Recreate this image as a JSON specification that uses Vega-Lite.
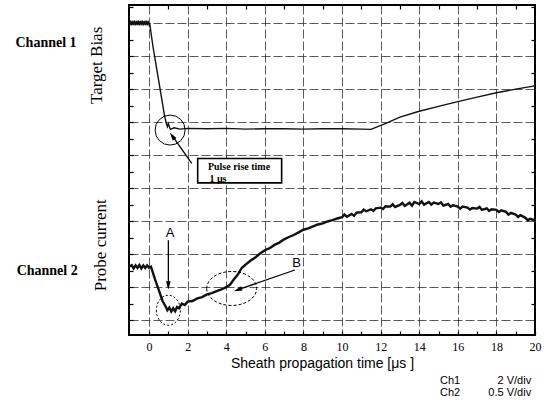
{
  "$schema": "https://vega.github.io/schema/vega-lite/v6.json",
  "width": 406,
  "height": 330,
  "autosize": "none",
  "padding": {"left": 129, "top": 5, "right": 16, "bottom": 67},
  "background": "white",
  "config": {"view": {"stroke": "#000", "strokeWidth": 2}},
  "datasets": {
    "ch1": [
      {"x": -1.04, "y": 9.02}, {"x": -1.0, "y": 8.93}, {"x": -0.95, "y": 9.08}, {"x": -0.9, "y": 8.93},
      {"x": -0.85, "y": 9.07}, {"x": -0.8, "y": 8.94}, {"x": -0.75, "y": 9.08}, {"x": -0.7, "y": 8.93},
      {"x": -0.65, "y": 9.07}, {"x": -0.6, "y": 8.94}, {"x": -0.55, "y": 9.08}, {"x": -0.5, "y": 8.93},
      {"x": -0.45, "y": 9.07}, {"x": -0.4, "y": 8.94}, {"x": -0.35, "y": 9.08}, {"x": -0.3, "y": 8.93},
      {"x": -0.25, "y": 9.07}, {"x": -0.2, "y": 8.94}, {"x": -0.15, "y": 9.08}, {"x": -0.1, "y": 8.93},
      {"x": -0.05, "y": 9.07}, {"x": 0.0, "y": 8.95}, {"x": 0.03, "y": 9.0},
      {"x": 0.2, "y": 8.3}, {"x": 0.4, "y": 7.6}, {"x": 0.6, "y": 6.9}, {"x": 0.8, "y": 6.2},
      {"x": 0.9, "y": 5.95}, {"x": 0.95, "y": 5.86}, {"x": 1.0, "y": 5.95}, {"x": 1.1, "y": 5.78},
      {"x": 1.3, "y": 5.83}, {"x": 1.6, "y": 5.79}, {"x": 2.0, "y": 5.81}, {"x": 3.0, "y": 5.8},
      {"x": 4.0, "y": 5.81}, {"x": 5.0, "y": 5.79}, {"x": 6.0, "y": 5.8}, {"x": 7.0, "y": 5.8},
      {"x": 8.0, "y": 5.79}, {"x": 9.0, "y": 5.8}, {"x": 10.0, "y": 5.8}, {"x": 11.0, "y": 5.79},
      {"x": 11.5, "y": 5.78}, {"x": 12.3, "y": 5.97}, {"x": 13.0, "y": 6.15}, {"x": 14.0, "y": 6.33},
      {"x": 15.0, "y": 6.48}, {"x": 16.0, "y": 6.62}, {"x": 17.0, "y": 6.76}, {"x": 18.0, "y": 6.89},
      {"x": 19.0, "y": 7.0}, {"x": 20.0, "y": 7.1}
    ],
    "ch2": [
      {"x": -1.04, "y": 1.62}, {"x": -0.9, "y": 1.67}, {"x": -0.8, "y": 1.57}, {"x": -0.7, "y": 1.66},
      {"x": -0.6, "y": 1.58}, {"x": -0.5, "y": 1.67}, {"x": -0.4, "y": 1.57}, {"x": -0.3, "y": 1.66},
      {"x": -0.2, "y": 1.58}, {"x": -0.1, "y": 1.66}, {"x": 0.0, "y": 1.59}, {"x": 0.1, "y": 1.62},
      {"x": 0.3, "y": 1.25},
      {"x": 0.5, "y": 0.92}, {"x": 0.7, "y": 0.58}, {"x": 0.85, "y": 0.42}, {"x": 0.95, "y": 0.3},
      {"x": 1.05, "y": 0.38}, {"x": 1.15, "y": 0.26}, {"x": 1.25, "y": 0.36}, {"x": 1.35, "y": 0.27},
      {"x": 1.45, "y": 0.4}, {"x": 1.55, "y": 0.36}, {"x": 1.7, "y": 0.5}, {"x": 1.85, "y": 0.46},
      {"x": 2.0, "y": 0.56}, {"x": 2.25, "y": 0.58}, {"x": 2.5, "y": 0.66}, {"x": 2.75, "y": 0.7},
      {"x": 3.0, "y": 0.78}, {"x": 3.25, "y": 0.82}, {"x": 3.5, "y": 0.88}, {"x": 3.75, "y": 0.93},
      {"x": 4.0, "y": 1.0}, {"x": 4.2, "y": 1.08}, {"x": 4.4, "y": 1.24}, {"x": 4.6, "y": 1.38},
      {"x": 4.8, "y": 1.58}, {"x": 5.0, "y": 1.68}, {"x": 5.25, "y": 1.8}, {"x": 5.5, "y": 1.9},
      {"x": 5.75, "y": 2.02}, {"x": 6.0, "y": 2.12}, {"x": 6.25, "y": 2.18}, {"x": 6.5, "y": 2.28},
      {"x": 6.75, "y": 2.35}, {"x": 7.0, "y": 2.45}, {"x": 7.25, "y": 2.52}, {"x": 7.5, "y": 2.58},
      {"x": 7.75, "y": 2.66}, {"x": 8.0, "y": 2.74}, {"x": 8.25, "y": 2.78}, {"x": 8.5, "y": 2.84},
      {"x": 8.75, "y": 2.9}, {"x": 9.0, "y": 2.93}, {"x": 9.25, "y": 2.99}, {"x": 9.5, "y": 3.03},
      {"x": 9.75, "y": 3.08}, {"x": 10.0, "y": 3.12}, {"x": 10.125, "y": 3.2}, {"x": 10.25, "y": 3.13},
      {"x": 10.5, "y": 3.22}, {"x": 10.625, "y": 3.16}, {"x": 10.75, "y": 3.26}, {"x": 11.0, "y": 3.27},
      {"x": 11.125, "y": 3.35}, {"x": 11.25, "y": 3.3}, {"x": 11.5, "y": 3.36}, {"x": 11.625, "y": 3.31},
      {"x": 11.75, "y": 3.39}, {"x": 12.0, "y": 3.41}, {"x": 12.125, "y": 3.37}, {"x": 12.25, "y": 3.45},
      {"x": 12.5, "y": 3.44}, {"x": 12.625, "y": 3.51}, {"x": 12.75, "y": 3.43}, {"x": 13.0, "y": 3.49},
      {"x": 13.125, "y": 3.55}, {"x": 13.25, "y": 3.46}, {"x": 13.5, "y": 3.56}, {"x": 13.625, "y": 3.47},
      {"x": 13.75, "y": 3.58}, {"x": 14.0, "y": 3.52}, {"x": 14.125, "y": 3.6}, {"x": 14.25, "y": 3.5},
      {"x": 14.5, "y": 3.58}, {"x": 14.625, "y": 3.5}, {"x": 14.75, "y": 3.56}, {"x": 15.0, "y": 3.52},
      {"x": 15.125, "y": 3.57}, {"x": 15.25, "y": 3.47}, {"x": 15.5, "y": 3.52}, {"x": 15.625, "y": 3.44},
      {"x": 15.75, "y": 3.48}, {"x": 16.0, "y": 3.44}, {"x": 16.125, "y": 3.38}, {"x": 16.25, "y": 3.44},
      {"x": 16.5, "y": 3.41}, {"x": 16.625, "y": 3.35}, {"x": 16.75, "y": 3.4}, {"x": 17.0, "y": 3.38},
      {"x": 17.125, "y": 3.43}, {"x": 17.25, "y": 3.34}, {"x": 17.5, "y": 3.39}, {"x": 17.625, "y": 3.31},
      {"x": 17.75, "y": 3.36}, {"x": 18.0, "y": 3.34}, {"x": 18.125, "y": 3.28}, {"x": 18.25, "y": 3.33},
      {"x": 18.5, "y": 3.28}, {"x": 18.625, "y": 3.2}, {"x": 18.75, "y": 3.25}, {"x": 19.0, "y": 3.2},
      {"x": 19.125, "y": 3.13}, {"x": 19.25, "y": 3.18}, {"x": 19.5, "y": 3.1}, {"x": 19.625, "y": 3.03},
      {"x": 19.75, "y": 3.07}, {"x": 20.0, "y": 3.02}
    ],
    "arrows": [
      {"name": "rise", "x": 2.21, "y": 4.75, "x2": 1.18, "y2": 5.61},
      {"name": "A", "x": 1.0, "y": 2.42, "x2": 1.0, "y2": 0.99},
      {"name": "B", "x": 7.56, "y": 1.52, "x2": 4.54, "y2": 0.91}
    ],
    "box": [{"x": 2.52, "x2": 6.87, "y": 4.9, "y2": 4.16}],
    "boxText": [
      {"x": 4.66, "y": 4.64, "label": "Pulse rise time"},
      {"x": 3.57, "y": 4.29, "label": "1 μs"}
    ],
    "letters": [
      {"x": 1.09, "y": 2.63, "label": "A"},
      {"x": 7.65, "y": 1.72, "label": "B"}
    ],
    "channels": [
      {"x": -5.34, "y": 8.39, "label": "Channel 1"},
      {"x": -5.28, "y": 1.48, "label": "Channel 2"}
    ],
    "ytitles": [
      {"x": -2.69, "y": 7.72, "label": "Target Bias"},
      {"x": -2.49, "y": 2.27, "label": "Probe current"}
    ],
    "scaleLeft": [
      {"x": 15.08, "y": -1.85, "label": "Ch1"},
      {"x": 15.08, "y": -2.21, "label": "Ch2"}
    ],
    "scaleRight": [
      {"x": 19.8, "y": -1.85, "label": "2 V/div"},
      {"x": 19.8, "y": -2.21, "label": "0.5 V/div"}
    ]
  },
  "resolve": {"axis": {"x": "independent", "y": "independent"}},
  "layer": [
    {
      "data": {"name": "ch1"},
      "mark": {"type": "line", "color": "#111", "strokeWidth": 1.4},
      "encoding": {
        "x": {
          "field": "x", "type": "quantitative",
          "scale": {"domain": [-1.04, 20], "nice": false, "zero": false},
          "axis": {
            "orient": "bottom",
            "values": [0, 1, 2, 3, 4, 5, 6, 7, 8, 9, 10, 11, 12, 13, 14, 15, 16, 17, 18, 19, 20],
            "labelExpr": "datum.value % 2 == 0 ? datum.label : ''",
            "labelOverlap": false, "labelFlush": false,
            "labelFont": "Liberation Serif", "labelFontSize": 12, "labelColor": "#000",
            "labelPadding": 10,
            "grid": true, "gridColor": "#333", "gridDash": [9, 3], "gridWidth": 1,
            "gridOpacity": {"condition": {"test": "datum.value % 2 != 0 || datum.value == 20", "value": 0}, "value": 0.8},
            "ticks": true, "tickSize": -4, "tickColor": "#000", "tickWidth": 1.2,
            "domain": false,
            "title": "Sheath propagation time [μs ]",
            "titleFont": "Liberation Sans", "titleFontSize": 14, "titleFontWeight": "normal",
            "titleColor": "#000", "titlePadding": 4, "titleX": 193
          }
        },
        "y": {
          "field": "y", "type": "quantitative",
          "scale": {"domain": [-0.45, 9.55], "nice": false, "zero": false},
          "axis": {
            "orient": "left",
            "values": [0, 0.5, 1, 1.5, 2, 2.5, 3, 3.5, 4, 4.5, 5, 5.5, 6, 6.5, 7, 7.5, 8, 8.5, 9, 9.5],
            "labels": false, "domain": false, "title": null,
            "grid": true, "gridColor": "#333", "gridDash": [9, 3], "gridWidth": 1,
            "gridOpacity": {"condition": {"test": "datum.value % 1 != 0", "value": 0}, "value": 0.8},
            "ticks": true, "tickSize": -4, "tickColor": "#000", "tickWidth": 1.2
          }
        }
      }
    },
    {
      "data": {"name": "ch2"},
      "mark": {"type": "line", "color": "#111", "strokeWidth": 2.4},
      "encoding": {
        "x": {
          "field": "x", "type": "quantitative",
          "axis": {
            "orient": "top", "values": [1, 3, 5, 7, 9, 11, 13, 15, 17, 19],
            "labels": false, "domain": false, "grid": false, "title": null,
            "ticks": true, "tickSize": -4, "tickColor": "#000", "tickWidth": 1.2
          }
        },
        "y": {
          "field": "y", "type": "quantitative",
          "axis": {
            "orient": "right",
            "values": [0.5, 1.5, 2.5, 3.5, 4.5, 5.5, 6.5, 7.5, 8.5, 9.5],
            "labels": false, "domain": false, "grid": false, "title": null,
            "ticks": true, "tickSize": -4, "tickColor": "#000", "tickWidth": 1.2
          }
        }
      }
    },
    {
      "data": {"values": [{"x": 1.09, "y": 5.76}]},
      "mark": {"type": "point", "shape": "circle", "size": 900, "filled": false, "stroke": "#000", "strokeWidth": 1, "opacity": 1},
      "encoding": {
        "x": {"field": "x", "type": "quantitative", "axis": null},
        "y": {"field": "y", "type": "quantitative", "axis": null}
      }
    },
    {
      "data": {"values": [{"x": 1.0, "y": 0.3}]},
      "mark": {"type": "point", "shape": "M -0.8 0 A 0.8 1 0 1 0 0.8 0 A 0.8 1 0 1 0 -0.8 0 Z", "size": 900, "filled": false, "stroke": "#000", "strokeWidth": 1, "strokeDash": [2, 2], "opacity": 1},
      "encoding": {
        "x": {"field": "x", "type": "quantitative", "axis": null},
        "y": {"field": "y", "type": "quantitative", "axis": null}
      }
    },
    {
      "data": {"values": [{"x": 4.28, "y": 0.96}]},
      "mark": {"type": "point", "shape": "M -1 0 A 1 0.68 0 1 0 1 0 A 1 0.68 0 1 0 -1 0 Z", "size": 2500, "filled": false, "stroke": "#000", "strokeWidth": 1, "strokeDash": [3, 2], "opacity": 1},
      "encoding": {
        "x": {"field": "x", "type": "quantitative", "axis": null},
        "y": {"field": "y", "type": "quantitative", "axis": null}
      }
    },
    {
      "data": {"name": "arrows"},
      "mark": {"type": "rule", "color": "#000", "strokeWidth": 1.3},
      "encoding": {
        "x": {"field": "x", "type": "quantitative", "axis": null},
        "y": {"field": "y", "type": "quantitative", "axis": null},
        "x2": {"field": "x2"},
        "y2": {"field": "y2"}
      }
    },
    {
      "data": {"values": [{"x": 1.2, "y": 5.58}]},
      "mark": {"type": "point", "shape": "M 0 -1 L 0.55 1 L -0.55 1 Z", "size": 70, "filled": true, "color": "#000", "opacity": 1, "angle": 325},
      "encoding": {
        "x": {"field": "x", "type": "quantitative", "axis": null},
        "y": {"field": "y", "type": "quantitative", "axis": null}
      }
    },
    {
      "data": {"values": [{"x": 1.0, "y": 1.05}]},
      "mark": {"type": "point", "shape": "M 0 -1 L 0.55 1 L -0.55 1 Z", "size": 70, "filled": true, "color": "#000", "opacity": 1, "angle": 180},
      "encoding": {
        "x": {"field": "x", "type": "quantitative", "axis": null},
        "y": {"field": "y", "type": "quantitative", "axis": null}
      }
    },
    {
      "data": {"values": [{"x": 4.6, "y": 0.92}]},
      "mark": {"type": "point", "shape": "M 0 -1 L 0.55 1 L -0.55 1 Z", "size": 70, "filled": true, "color": "#000", "opacity": 1, "angle": 251},
      "encoding": {
        "x": {"field": "x", "type": "quantitative", "axis": null},
        "y": {"field": "y", "type": "quantitative", "axis": null}
      }
    },
    {
      "data": {"name": "box"},
      "mark": {"type": "rect", "fill": "white", "stroke": "#000", "strokeWidth": 1.6},
      "encoding": {
        "x": {"field": "x", "type": "quantitative", "axis": null},
        "x2": {"field": "x2"},
        "y": {"field": "y", "type": "quantitative", "axis": null},
        "y2": {"field": "y2"}
      }
    },
    {
      "data": {"name": "boxText"},
      "mark": {"type": "text", "font": "Liberation Serif", "fontSize": 10, "fontWeight": "bold", "color": "#000", "align": "center", "baseline": "middle"},
      "encoding": {
        "x": {"field": "x", "type": "quantitative", "axis": null},
        "y": {"field": "y", "type": "quantitative", "axis": null},
        "text": {"field": "label"}
      }
    },
    {
      "data": {"name": "letters"},
      "mark": {"type": "text", "font": "Liberation Sans", "fontSize": 13, "color": "#000", "align": "center", "baseline": "middle"},
      "encoding": {
        "x": {"field": "x", "type": "quantitative", "axis": null},
        "y": {"field": "y", "type": "quantitative", "axis": null},
        "text": {"field": "label"}
      }
    },
    {
      "data": {"name": "channels"},
      "mark": {"type": "text", "font": "Liberation Serif", "fontSize": 14, "fontWeight": "bold", "color": "#000", "align": "center", "baseline": "middle"},
      "encoding": {
        "x": {"field": "x", "type": "quantitative", "axis": null},
        "y": {"field": "y", "type": "quantitative", "axis": null},
        "text": {"field": "label"}
      }
    },
    {
      "data": {"name": "ytitles"},
      "mark": {"type": "text", "font": "Liberation Serif", "fontSize": 17, "color": "#000", "align": "center", "baseline": "middle", "angle": 270},
      "encoding": {
        "x": {"field": "x", "type": "quantitative", "axis": null},
        "y": {"field": "y", "type": "quantitative", "axis": null},
        "text": {"field": "label"}
      }
    },
    {
      "data": {"name": "scaleLeft"},
      "mark": {"type": "text", "font": "Liberation Sans", "fontSize": 11, "color": "#000", "align": "left", "baseline": "middle"},
      "encoding": {
        "x": {"field": "x", "type": "quantitative", "axis": null},
        "y": {"field": "y", "type": "quantitative", "axis": null},
        "text": {"field": "label"}
      }
    },
    {
      "data": {"name": "scaleRight"},
      "mark": {"type": "text", "font": "Liberation Sans", "fontSize": 11, "color": "#000", "align": "right", "baseline": "middle"},
      "encoding": {
        "x": {"field": "x", "type": "quantitative", "axis": null},
        "y": {"field": "y", "type": "quantitative", "axis": null},
        "text": {"field": "label"}
      }
    }
  ]
}
